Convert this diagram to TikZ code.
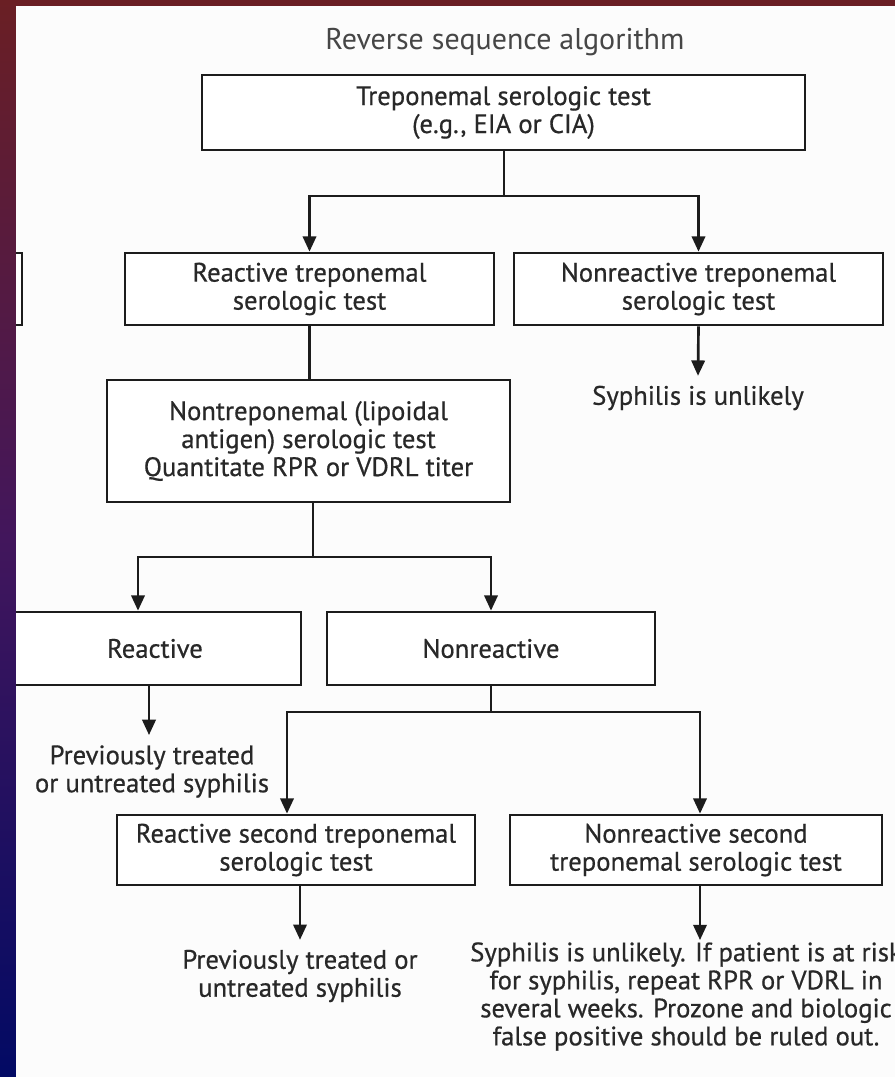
\documentclass[tikz,border=0pt]{standalone}
\usepackage{fontspec}
\setmainfont{PT Sans}[FakeBold=0.6]
\newfontfamily\titlefont{PT Sans}
\usetikzlibrary{arrows.meta}
\definecolor{bgred}{RGB}{106,31,36}
\definecolor{bgpurple}{RGB}{66,22,92}
\definecolor{bgnavy}{RGB}{2,10,100}
\definecolor{linec}{RGB}{28,28,28}
\definecolor{textc}{RGB}{40,40,40}
\definecolor{titlec}{RGB}{70,70,70}
\definecolor{paper}{RGB}{252,252,252}
\begin{document}
\begin{tikzpicture}[x=0.75pt,y=-0.75pt,
 box/.style={draw=linec,line width=2pt,fill=white,inner sep=0pt,align=center,text=textc,font=\fontsize{20}{21}\selectfont},
 lbl/.style={inner sep=0pt,align=center,text=textc,font=\fontsize{20}{21}\selectfont},
 conn/.style={draw=linec,line width=2pt},
 arr/.style={conn,-{Triangle[length=11.5pt,width=10pt]}}]
\useasboundingbox (0,0) rectangle (895,1077);
\shade[top color=bgred,bottom color=bgnavy,middle color=bgpurple] (0,0) rectangle (895,1077);
\fill[paper] (16,6) rectangle (895,1077);
\begin{scope}
\clip (16,6) rectangle (895,1077);
\node[lbl,text=titlec,font=\titlefont\fontsize{22.5}{24}\selectfont] (title) at (505,42) {Reverse sequence algorithm};
\node[box,minimum width=603*0.75pt,minimum height=75*0.75pt] (b1) at (503.5,112.5) {Treponemal serologic test\\(e.g., EIA or CIA)};
\coordinate (j1) at (504,196);
\node[box,minimum width=244*0.75pt,minimum height=72*0.75pt] (bl) at (-100,289) {};
\node[box,minimum width=369*0.75pt,minimum height=72*0.75pt] (b2) at (309.5,289) {Reactive treponemal\\serologic test};
\node[box,minimum width=369*0.75pt,minimum height=72*0.75pt] (b3) at (698.5,289) {Nonreactive treponemal\\serologic test};
\node[lbl] (t3) at (698,398) {Syphilis is unlikely};
\node[box,minimum width=403*0.75pt,minimum height=122*0.75pt] (b4) at (308.5,441) {Nontreponemal (lipoidal\\antigen) serologic test\\Quantitate RPR or VDRL titer};
\coordinate (j2) at (313,557);
\node[box,minimum width=292*0.75pt,minimum height=73*0.75pt] (b5) at (155,648.5) {Reactive};
\node[box,minimum width=328*0.75pt,minimum height=73*0.75pt] (b6) at (491,648.5) {Nonreactive};
\node[lbl] (t5) at (152,771.5) {Previously treated\\or untreated syphilis};
\coordinate (j3) at (491,712);
\node[box,minimum width=358*0.75pt,minimum height=70*0.75pt] (b7) at (296,850) {Reactive second treponemal\\serologic test};
\node[box,minimum width=372*0.75pt,minimum height=70*0.75pt] (b8) at (696,850) {Nonreactive second\\treponemal serologic test};
\node[lbl] (t7) at (300,976) {Previously treated or\\untreated syphilis};
\node[lbl] (t8) at (686,996.5) {Syphilis is unlikely. If patient is at risk\\for syphilis, repeat RPR or VDRL in\\several weeks. Prozone and biologic\\false positive should be ruled out.};
\draw[conn] (b1.south -| j1) -- (j1);
\draw[arr] (j1) -| (b2.north);
\draw[arr] (j1) -| (b3.north);
\draw[arr] (b3.south) -- ([yshift=7.3pt]t3.north);
\draw[conn] (b2.south) -- (b2.south |- b4.north);
\draw[conn] (b4.south -| j2) -- (j2);
\draw[arr] (j2) -| ([xshift=-12.75pt]b5.north);
\draw[arr] (j2) -| (b6.north);
\draw[arr] ([xshift=-4.5pt]b5.south) -- ([xshift=-2.25pt,yshift=7.5pt]t5.north);
\draw[conn] (b6.south) -- (j3);
\draw[arr] (j3) -| ([xshift=-6.75pt]b7.north);
\draw[arr] (j3) -| ([xshift=3pt]b8.north);
\draw[arr] ([xshift=3pt]b7.south) -- ([yshift=7.3pt]t7.north);
\draw[arr] ([xshift=3pt]b8.south) -- ([xshift=10.5pt,yshift=1.5pt]t8.north);
\end{scope}
\end{tikzpicture}
\end{document}
